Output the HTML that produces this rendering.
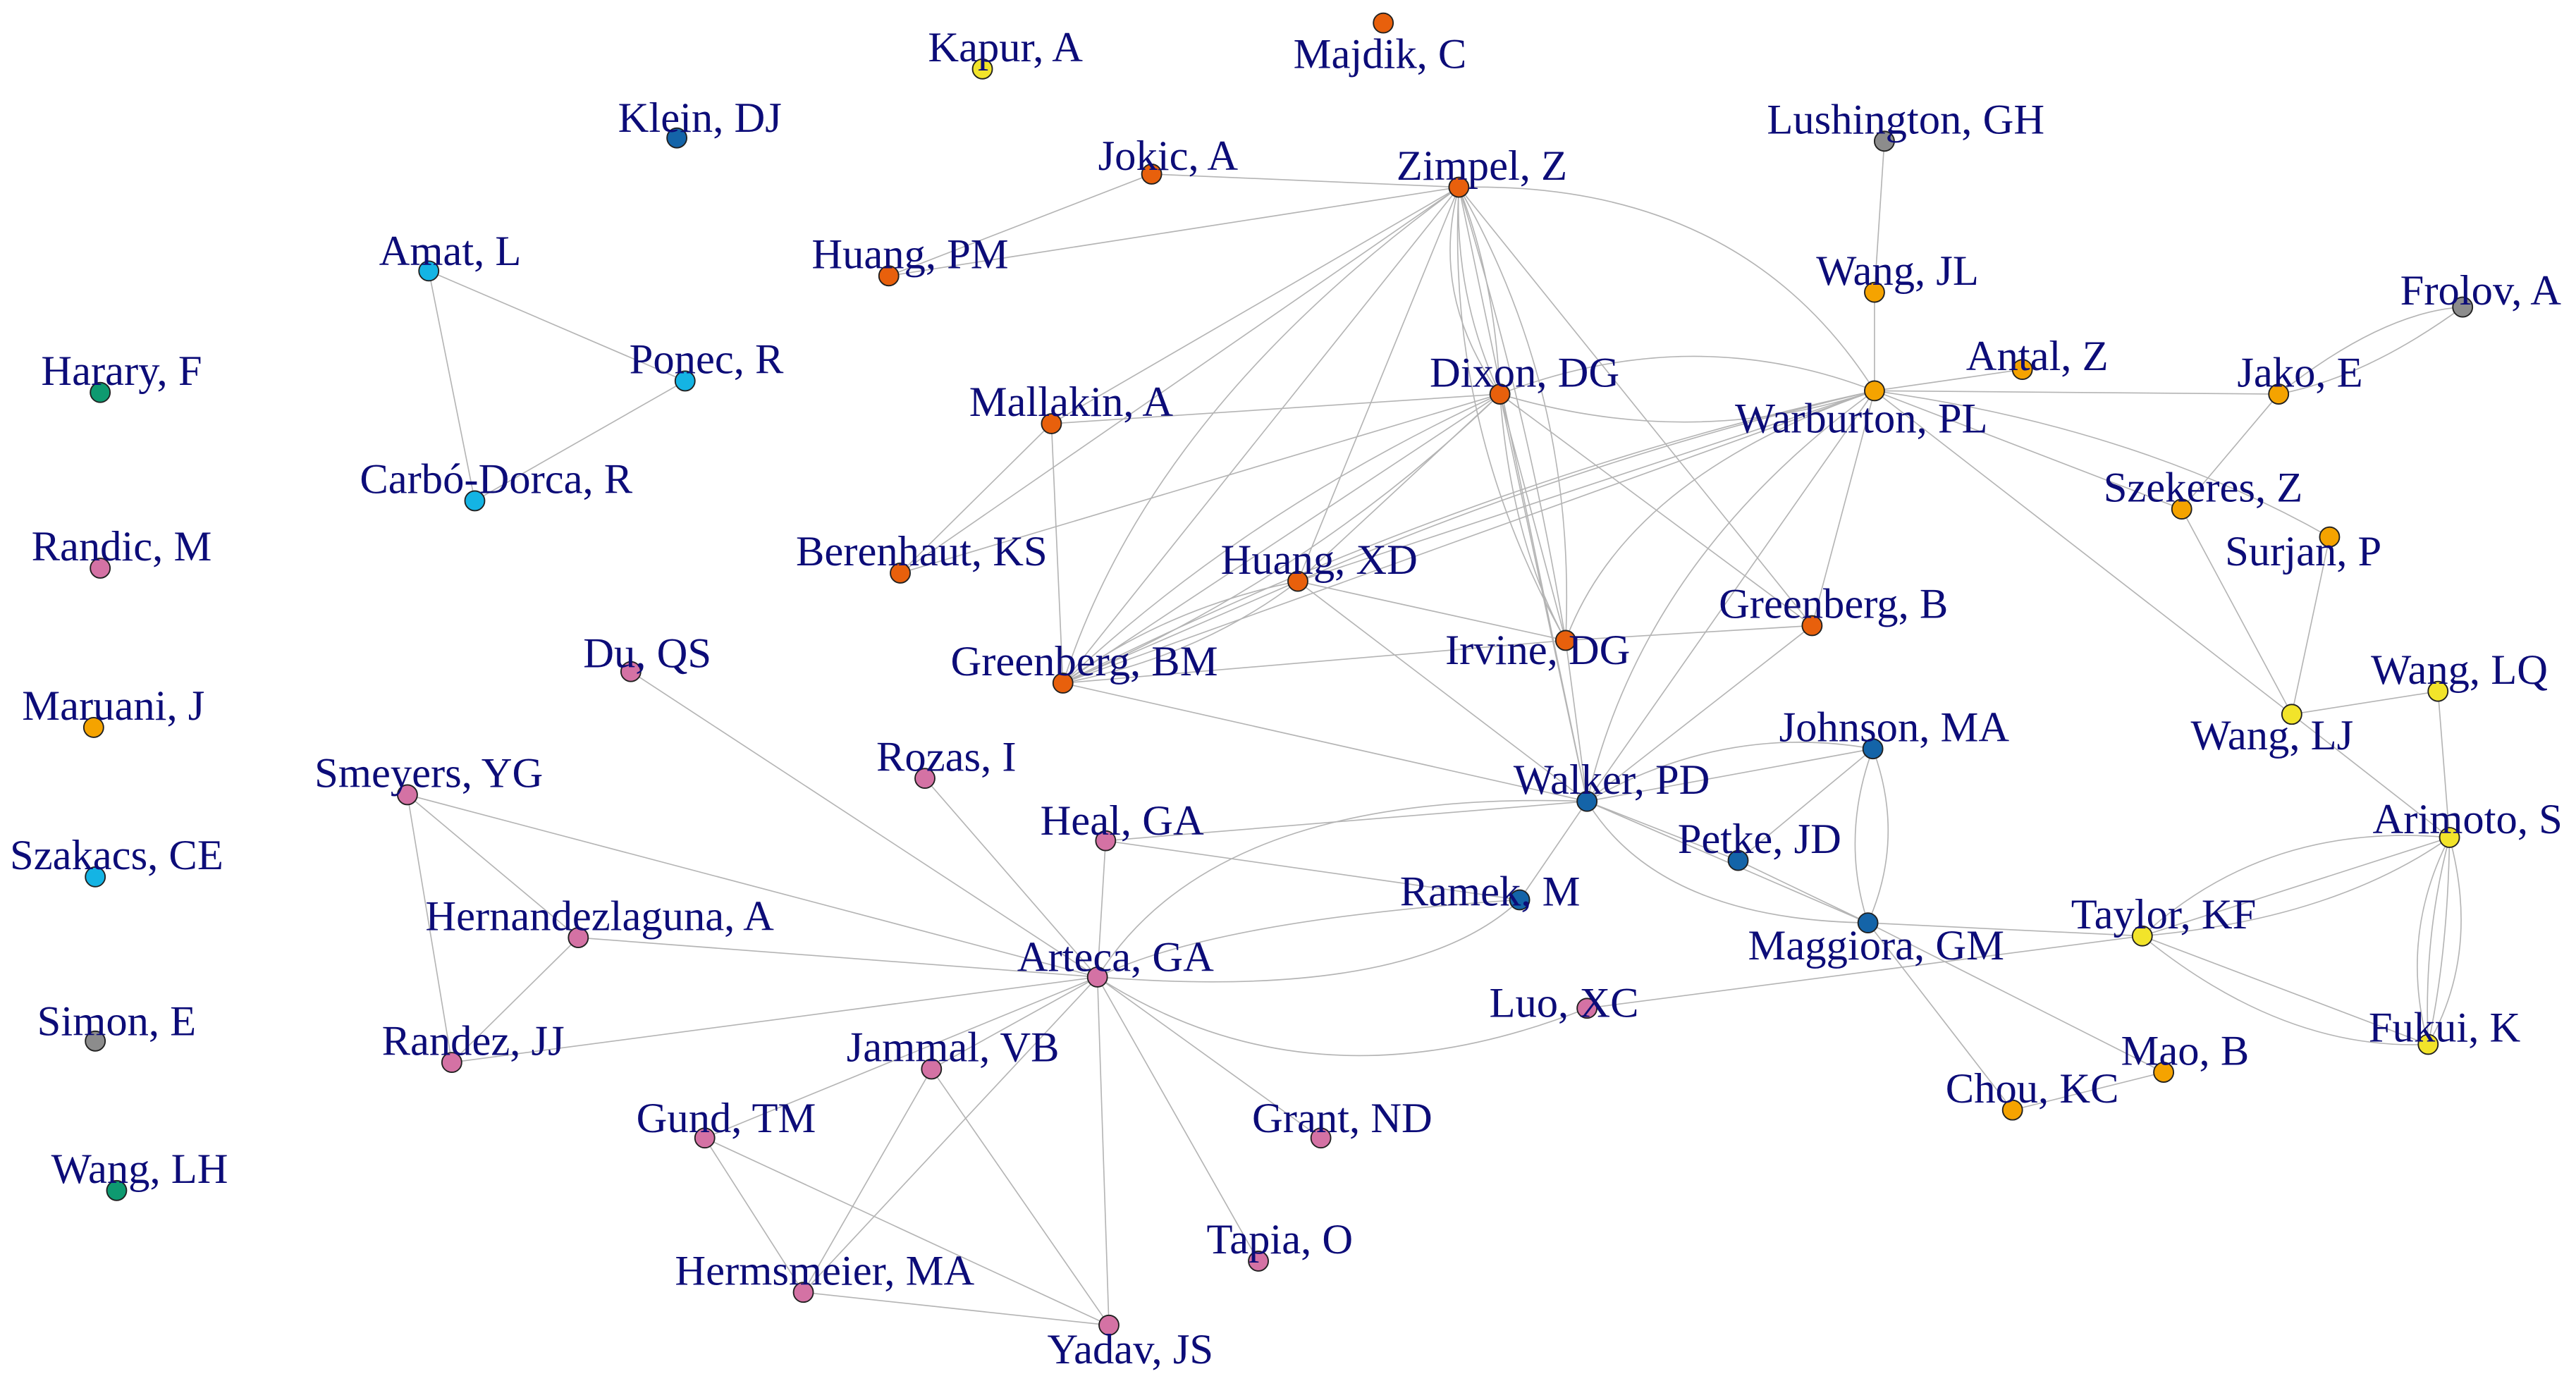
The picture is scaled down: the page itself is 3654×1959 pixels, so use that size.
<!DOCTYPE html>
<html><head><meta charset="utf-8"><style>
html,body{margin:0;padding:0;background:#fff;}
svg{display:block;}
text{font-family:"Liberation Serif",serif;font-size:26px;fill:#0c0c78;text-anchor:middle;dominant-baseline:central;}
.e line,.e path{stroke:#b4b4b4;stroke-width:0.7;fill:none;}
.n circle{stroke:#202020;stroke-width:0.8;}
</style></head><body>
<svg width="3654" height="1959" viewBox="0 0 1568 841" preserveAspectRatio="none" xmlns="http://www.w3.org/2000/svg">
<g class="e">
<line x1="701" y1="106" x2="541" y2="168"/><line x1="701" y1="106" x2="888" y2="114"/><line x1="541" y1="168" x2="888" y2="114"/>
<line x1="261" y1="165" x2="417" y2="232"/><line x1="261" y1="165" x2="289" y2="305"/><line x1="417" y1="232" x2="289" y2="305"/>
<line x1="1147" y1="86" x2="1141" y2="178"/><line x1="1141" y1="178" x2="1141" y2="238"/>
<path d="M1499 187 Q1450 190 1387 240"/><path d="M1499 187 Q1440 230 1387 240"/>
<path d="M888 114 Q1060 110 1141 238"/>
<path d="M888 114 Q885 180 913 240"/><path d="M888 114 Q910 170 913 240"/><path d="M888 114 Q870 180 913 240"/>
<line x1="888" y1="114" x2="647" y2="416"/><path d="M888 114 Q700 250 647 416"/>
<line x1="888" y1="114" x2="548" y2="349"/>
<path d="M888 114 Q930 250 953 390"/><path d="M888 114 Q880 260 953 390"/><path d="M888 114 Q960 240 953 390"/>
<line x1="888" y1="114" x2="1103" y2="381"/><line x1="888" y1="114" x2="966" y2="488"/><line x1="888" y1="114" x2="790" y2="354"/>
<line x1="888" y1="114" x2="640" y2="258"/>
<line x1="913" y1="240" x2="640" y2="258"/>
<path d="M913 240 Q1030 195 1141 238"/><path d="M913 240 Q1030 275 1141 238"/>
<line x1="913" y1="240" x2="647" y2="416"/><path d="M913 240 Q760 310 647 416"/><path d="M913 240 Q800 350 647 416"/>
<line x1="913" y1="240" x2="548" y2="349"/><line x1="913" y1="240" x2="953" y2="390"/><path d="M913 240 Q920 330 953 390"/>
<line x1="913" y1="240" x2="966" y2="488"/><line x1="913" y1="240" x2="1103" y2="381"/><line x1="913" y1="240" x2="790" y2="354"/>
<line x1="640" y1="258" x2="548" y2="349"/><line x1="640" y1="258" x2="647" y2="416"/>
<line x1="1141" y1="238" x2="1231" y2="225"/><line x1="1141" y1="238" x2="1387" y2="240"/><line x1="1141" y1="238" x2="1328" y2="310"/>
<path d="M1141 238 Q1300 260 1418 327"/><line x1="1141" y1="238" x2="1395" y2="435"/>
<line x1="1141" y1="238" x2="647" y2="416"/><path d="M1141 238 Q900 290 647 416"/>
<line x1="1141" y1="238" x2="790" y2="354"/><path d="M1141 238 Q960 280 790 354"/>
<path d="M1141 238 Q990 290 953 390"/><line x1="1141" y1="238" x2="966" y2="488"/><path d="M1141 238 Q1000 340 966 488"/>
<line x1="1141" y1="238" x2="1103" y2="381"/>
<line x1="1328" y1="310" x2="1387" y2="240"/><line x1="1328" y1="310" x2="1395" y2="435"/><line x1="1418" y1="327" x2="1395" y2="435"/>
<line x1="1395" y1="435" x2="1484" y2="421"/><line x1="1395" y1="435" x2="1491" y2="510"/><line x1="1484" y1="421" x2="1491" y2="510"/>
<path d="M1304 570 Q1380 500 1491 510"/><line x1="1304" y1="570" x2="1491" y2="510"/><path d="M1304 570 Q1420 560 1491 510"/>
<path d="M1491 510 Q1460 570 1478 636"/><path d="M1491 510 Q1475 570 1478 636"/><path d="M1491 510 Q1490 580 1478 636"/><path d="M1491 510 Q1510 580 1478 636"/>
<line x1="1304" y1="570" x2="1478" y2="636"/><path d="M1304 570 Q1390 640 1478 636"/>
<line x1="1304" y1="570" x2="1137" y2="562"/><line x1="966" y1="614" x2="1304" y2="570"/>
<line x1="1137" y1="562" x2="1225" y2="676"/><line x1="1137" y1="562" x2="1317" y2="653"/><line x1="1225" y1="676" x2="1317" y2="653"/>
<line x1="790" y1="354" x2="647" y2="416"/><path d="M790 354 Q710 370 647 416"/><path d="M790 354 Q730 400 647 416"/>
<line x1="790" y1="354" x2="953" y2="390"/><line x1="790" y1="354" x2="966" y2="488"/>
<line x1="953" y1="390" x2="1103" y2="381"/><line x1="647" y1="416" x2="953" y2="390"/><line x1="647" y1="416" x2="966" y2="488"/>
<line x1="966" y1="488" x2="1140" y2="456"/><path d="M966 488 Q1050 440 1140 456"/>
<line x1="966" y1="488" x2="1058" y2="524"/><line x1="966" y1="488" x2="1137" y2="562"/><path d="M966 488 Q1010 560 1137 562"/>
<line x1="966" y1="488" x2="925" y2="548"/><line x1="966" y1="488" x2="673" y2="512"/><path d="M966 488 Q740 480 668 595"/>
<line x1="966" y1="488" x2="1103" y2="381"/><line x1="953" y1="390" x2="966" y2="488"/>
<line x1="1140" y1="456" x2="1058" y2="524"/><path d="M1140 456 Q1120 510 1137 562"/><path d="M1140 456 Q1160 510 1137 562"/><line x1="1058" y1="524" x2="1137" y2="562"/>
<line x1="673" y1="512" x2="925" y2="548"/><line x1="673" y1="512" x2="668" y2="595"/>
<path d="M668 595 Q860 610 925 548"/><path d="M668 595 Q740 560 925 548"/>
<line x1="668" y1="595" x2="384" y2="409"/><line x1="668" y1="595" x2="563" y2="474"/><line x1="668" y1="595" x2="248" y2="484"/>
<line x1="668" y1="595" x2="352" y2="571"/><line x1="668" y1="595" x2="275" y2="647"/><line x1="668" y1="595" x2="567" y2="651"/>
<line x1="668" y1="595" x2="429" y2="693"/><line x1="668" y1="595" x2="489" y2="787"/><line x1="668" y1="595" x2="675" y2="807"/>
<line x1="668" y1="595" x2="766" y2="768"/><line x1="668" y1="595" x2="804" y2="693"/><path d="M668 595 Q800 680 966 614"/>
<line x1="248" y1="484" x2="352" y2="571"/><line x1="248" y1="484" x2="275" y2="647"/><line x1="352" y1="571" x2="275" y2="647"/>
<line x1="567" y1="651" x2="489" y2="787"/><line x1="567" y1="651" x2="675" y2="807"/><line x1="429" y1="693" x2="489" y2="787"/>
<line x1="429" y1="693" x2="675" y2="807"/><line x1="489" y1="787" x2="675" y2="807"/>
</g>
<g class="n">
<circle cx="598" cy="42" r="6" fill="#f2e42a"/><circle cx="842" cy="14" r="6" fill="#e8600c"/><circle cx="412" cy="84" r="6" fill="#1464a8"/>
<circle cx="1147" cy="86" r="6" fill="#8c8c8c"/><circle cx="701" cy="106" r="6" fill="#e8600c"/><circle cx="888" cy="114" r="6" fill="#e8600c"/>
<circle cx="541" cy="168" r="6" fill="#e8600c"/><circle cx="261" cy="165" r="6" fill="#14b4e4"/><circle cx="1141" cy="178" r="6" fill="#f5a300"/>
<circle cx="1499" cy="187" r="6" fill="#8c8c8c"/><circle cx="61" cy="239" r="6" fill="#0e9a70"/><circle cx="417" cy="232" r="6" fill="#14b4e4"/>
<circle cx="1231" cy="225" r="6" fill="#f5a300"/><circle cx="913" cy="240" r="6" fill="#e8600c"/><circle cx="1387" cy="240" r="6" fill="#f5a300"/>
<circle cx="640" cy="258" r="6" fill="#e8600c"/><circle cx="1141" cy="238" r="6" fill="#f5a300"/><circle cx="289" cy="305" r="6" fill="#14b4e4"/>
<circle cx="1328" cy="310" r="6" fill="#f5a300"/><circle cx="61" cy="346" r="6" fill="#d472a4"/><circle cx="1418" cy="327" r="6" fill="#f5a300"/>
<circle cx="548" cy="349" r="6" fill="#e8600c"/><circle cx="790" cy="354" r="6" fill="#e8600c"/><circle cx="1103" cy="381" r="6" fill="#e8600c"/>
<circle cx="953" cy="390" r="6" fill="#e8600c"/><circle cx="384" cy="409" r="6" fill="#d472a4"/><circle cx="647" cy="416" r="6" fill="#e8600c"/>
<circle cx="57" cy="443" r="6" fill="#f5a300"/><circle cx="1484" cy="421" r="6" fill="#f2e42a"/><circle cx="1395" cy="435" r="6" fill="#f2e42a"/>
<circle cx="1140" cy="456" r="6" fill="#1464a8"/><circle cx="563" cy="474" r="6" fill="#d472a4"/><circle cx="248" cy="484" r="6" fill="#d472a4"/>
<circle cx="966" cy="488" r="6" fill="#1464a8"/><circle cx="1491" cy="510" r="6" fill="#f2e42a"/><circle cx="673" cy="512" r="6" fill="#d472a4"/>
<circle cx="58" cy="534" r="6" fill="#14b4e4"/><circle cx="1058" cy="524" r="6" fill="#1464a8"/><circle cx="925" cy="548" r="6" fill="#1464a8"/>
<circle cx="352" cy="571" r="6" fill="#d472a4"/><circle cx="1137" cy="562" r="6" fill="#1464a8"/><circle cx="1304" cy="570" r="6" fill="#f2e42a"/>
<circle cx="668" cy="595" r="6" fill="#d472a4"/><circle cx="966" cy="614" r="6" fill="#d472a4"/><circle cx="1478" cy="636" r="6" fill="#f2e42a"/>
<circle cx="58" cy="634" r="6" fill="#8c8c8c"/><circle cx="275" cy="647" r="6" fill="#d472a4"/><circle cx="567" cy="651" r="6" fill="#d472a4"/>
<circle cx="1317" cy="653" r="6" fill="#f5a300"/><circle cx="1225" cy="676" r="6" fill="#f5a300"/><circle cx="429" cy="693" r="6" fill="#d472a4"/>
<circle cx="804" cy="693" r="6" fill="#d472a4"/><circle cx="71" cy="725" r="6" fill="#0e9a70"/><circle cx="766" cy="768" r="6" fill="#d472a4"/>
<circle cx="489" cy="787" r="6" fill="#d472a4"/><circle cx="675" cy="807" r="6" fill="#d472a4"/>
</g>
<g>
<text x="612" y="29">Kapur, A</text><text x="840" y="33">Majdik, C</text><text x="426" y="72">Klein, DJ</text>
<text x="1160" y="73">Lushington, GH</text><text x="711" y="95">Jokic, A</text><text x="902" y="101">Zimpel, Z</text>
<text x="554" y="155">Huang, PM</text><text x="274" y="153">Amat, L</text><text x="1155" y="165">Wang, JL</text>
<text x="1510" y="177">Frolov, A</text><text x="74" y="226">Harary, F</text><text x="430" y="219">Ponec, R</text>
<text x="1240" y="217">Antal, Z</text><text x="928" y="227">Dixon, DG</text><text x="1400" y="227">Jako, E</text>
<text x="652" y="245">Mallakin, A</text><text x="1133" y="255">Warburton, PL</text><text x="302" y="292">Carbó-Dorca, R</text>
<text x="1341" y="297">Szekeres, Z</text><text x="74" y="333">Randic, M</text><text x="1402" y="336">Surjan, P</text>
<text x="561" y="336">Berenhaut, KS</text><text x="803" y="341">Huang, XD</text><text x="1116" y="368">Greenberg, B</text>
<text x="936" y="396">Irvine, DG</text><text x="394" y="398">Du, QS</text><text x="660" y="403">Greenberg, BM</text>
<text x="69" y="430">Maruani, J</text><text x="1497" y="408">Wang, LQ</text><text x="1383" y="448">Wang, LJ</text>
<text x="1153" y="443">Johnson, MA</text><text x="576" y="461">Rozas, I</text><text x="261" y="471">Smeyers, YG</text>
<text x="981" y="475">Walker, PD</text><text x="1502" y="499">Arimoto, S</text><text x="683" y="500">Heal, GA</text>
<text x="71" y="521">Szakacs, CE</text><text x="1071" y="511">Petke, JD</text><text x="907" y="543">Ramek, M</text>
<text x="365" y="558">Hernandezlaguna, A</text><text x="1142" y="576">Maggiora, GM</text><text x="1317" y="557">Taylor, KF</text>
<text x="679" y="583">Arteca, GA</text><text x="952" y="611">Luo, XC</text><text x="1488" y="626">Fukui, K</text>
<text x="71" y="622">Simon, E</text><text x="288" y="634">Randez, JJ</text><text x="580" y="638">Jammal, VB</text>
<text x="1330" y="640">Mao, B</text><text x="1237" y="663">Chou, KC</text><text x="442" y="681">Gund, TM</text>
<text x="817" y="681">Grant, ND</text><text x="85" y="712">Wang, LH</text><text x="779" y="755">Tapia, O</text>
<text x="502" y="774">Hermsmeier, MA</text><text x="688" y="822">Yadav, JS</text>
</g>
</svg>
</body></html>
